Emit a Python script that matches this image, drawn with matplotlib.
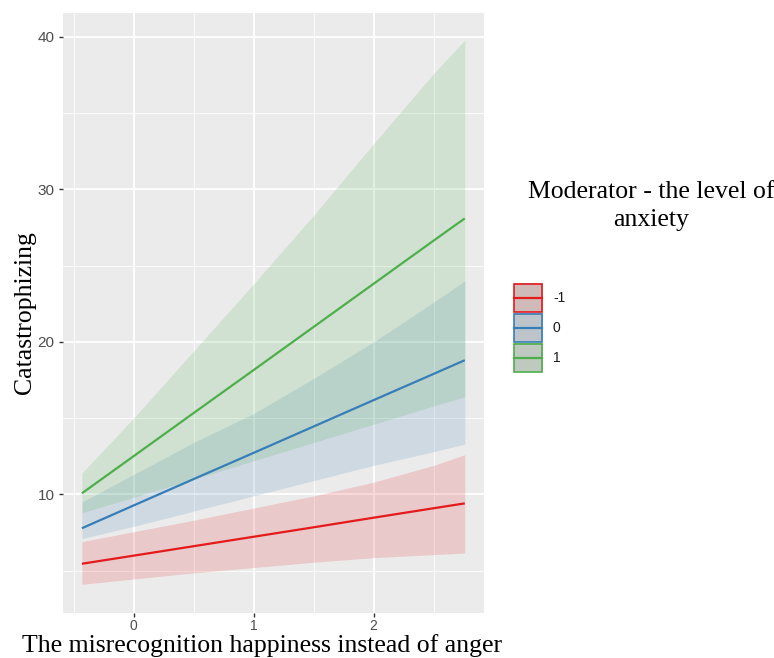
import matplotlib
matplotlib.use("Agg")
import matplotlib.pyplot as plt
from matplotlib.patches import Rectangle
from matplotlib.lines import Line2D
import numpy as np

# predictor values at which fitted lines and interval bounds are taken
x_vals = [-0.43, 0.0, 0.5, 1.0, 1.5, 2.0, 2.5, 2.76]

levels = ["-1", "0", "1"]

# fitted catastrophizing per moderator level
fit_neg = [5.45, 5.98, 6.60, 7.22, 7.84, 8.47, 9.09, 9.41]
fit_zero = [7.78, 9.27, 11.00, 12.72, 14.45, 16.18, 17.90, 18.80]
fit_pos = [10.07, 12.50, 15.33, 18.15, 20.98, 23.81, 26.64, 28.10]

# confidence band bounds
lower_neg = [4.10, 4.45, 4.85, 5.20, 5.55, 5.85, 6.05, 6.15]
upper_neg = [6.90, 7.55, 8.30, 9.10, 9.90, 10.80, 11.90, 12.60]
lower_zero = [7.10, 7.90, 8.90, 9.90, 10.90, 11.90, 12.80, 13.30]
upper_zero = [9.50, 11.30, 13.40, 15.30, 17.60, 20.00, 22.60, 24.00]
lower_pos = [8.80, 9.80, 11.00, 12.20, 13.40, 14.60, 15.80, 16.40]
upper_pos = [11.40, 15.00, 19.40, 23.80, 28.30, 33.00, 37.60, 39.80]

x_ticks = [0, 1, 2]
y_ticks = [10, 20, 30, 40]

colors = ["#E41A1C", "#377EB8", "#4DAF4A"]
fits = [fit_neg, fit_zero, fit_pos]
lowers = [lower_neg, lower_zero, lower_pos]
uppers = [upper_neg, upper_zero, upper_pos]

W, H = 774, 658
fig = plt.figure(figsize=(W / 100, H / 100), dpi=100)


def px(x0, y0, x1, y1):
    # pixel box (left, top, right, bottom) -> figure fraction rect
    return [x0 / W, 1 - y1 / H, (x1 - x0) / W, (y1 - y0) / H]


ax = fig.add_axes(px(63, 13, 484, 613))
ax.set_facecolor("#EBEBEB")
for s in ax.spines.values():
    s.set_visible(False)

for lo, hi, c in zip(lowers, uppers, colors):
    ax.fill_between(x_vals, lo, hi, color=c, alpha=0.16, linewidth=0)
for f, c in zip(fits, colors):
    ax.plot(x_vals, f, color=c, lw=1.6, solid_capstyle="butt")

ax.set_xlim(-0.5875, 2.92)
ax.set_ylim(2.22, 41.57)
ax.set_xticks(x_ticks)
ax.set_yticks(y_ticks)
ax.set_xticks([-0.5, 0.5, 1.5, 2.5], minor=True)
ax.set_yticks([5, 15, 25, 35], minor=True)
ax.grid(which="major", color="white", lw=1.3)
ax.grid(which="minor", color="white", lw=0.6)
ax.set_axisbelow(True)
ax.tick_params(which="major", length=3, width=1, color="#333333",
               labelcolor="#4D4D4D")
ax.tick_params(axis="y", labelsize=11, pad=3)
ax.tick_params(axis="x", labelsize=10, pad=1.5)
ax.tick_params(which="minor", length=0)
for lab in ax.get_xticklabels() + ax.get_yticklabels():
    lab.set_family("Liberation Sans")

serif = "Liberation Serif"
fig.text(262 / W, 1 - 646 / H, "The misrecognition happiness instead of anger",
         family=serif, fontsize=18.5, ha="center", va="center")
fig.text(25 / W, 1 - 313 / H, "Catastrophizing", family=serif, fontsize=18.5,
         rotation=90, ha="center", va="center")
fig.text(651 / W, 1 - 206 / H, "Moderator - the level of\nanxiety", family=serif,
         fontsize=18.5, ha="center", va="center", linespacing=1.3)

# legend keys: band swatch with the line through it
leg = fig.add_axes(px(510, 280, 580, 375))
leg.set_xlim(510, 580)
leg.set_ylim(375, 280)
leg.axis("off")
for i, (lab, c) in enumerate(zip(levels, colors)):
    top = 283 + i * 30
    leg.add_patch(Rectangle((514, top), 29, 29, facecolor="#CDCDCD",
                            edgecolor="none"))
    leg.add_patch(Rectangle((514, top), 29, 29, facecolor=c, alpha=0.1,
                            edgecolor="none"))
    leg.add_patch(Rectangle((514.5, top + 0.5), 28, 28, facecolor="none",
                            edgecolor=c, lw=1.2))
    leg.add_line(Line2D([514.5, 542.5], [top + 14.5, top + 14.5], color=c,
                        lw=1.6))
    leg.text(553, top + 14.5, lab, family="Liberation Sans", fontsize=10,
             color="#1A1A1A", va="center", ha="left")

fig.savefig("out.png", dpi=100)
